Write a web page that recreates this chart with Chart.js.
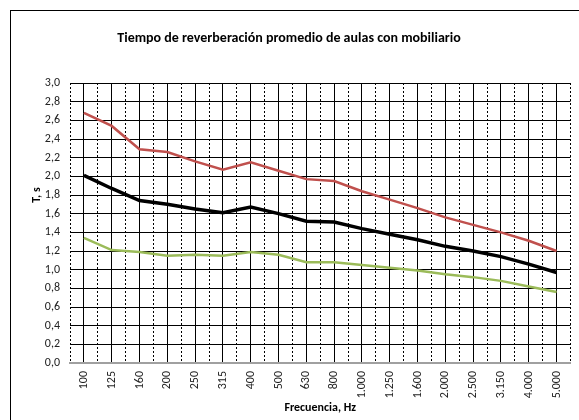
<!DOCTYPE html>
<html><head><meta charset="utf-8">
<script src="https://cdn.jsdelivr.net/npm/chart.js@4/dist/chart.umd.min.js"></script>
<style>html,body{margin:0;padding:0;background:#fff}#wrap{width:579px;height:420px;position:relative}</style>
</head><body><div id="wrap"><canvas id="c" width="579" height="420"></canvas></div>
<script>
const categories = ['100','125','160','200','250','315','400','500','630','800','1.000','1.250','1.600','2.000','2.500','3.150','4.000','5.000'];
const maxValues  = [2.68,2.54,2.29,2.26,2.16,2.07,2.15,2.06,1.97,1.95,1.84,1.75,1.66,1.56,1.48,1.40,1.31,1.20];
const meanValues = [2.01,1.87,1.74,1.70,1.65,1.61,1.67,1.60,1.52,1.51,1.44,1.38,1.32,1.25,1.20,1.14,1.06,0.97];
const minValues  = [1.34,1.21,1.19,1.15,1.16,1.15,1.19,1.16,1.08,1.08,1.05,1.02,0.99,0.95,0.92,0.88,0.82,0.76];
const titleText = 'Tiempo de reverberación promedio de aulas con mobiliario';
const yTitle = 'T, s';
const xTitle = 'Frecuencia, Hz';
const FONT = "Carlito, Lato, 'Liberation Sans', sans-serif";

const textPlugin = {
  id: 'texts',
  beforeDraw(chart) {
    const c = chart.ctx;
    c.save();
    c.strokeStyle = '#000'; c.lineWidth = 1;
    c.strokeRect(10.5, 10.5, 700, 600);
    c.restore();
  },
  afterDraw(chart) {
    const c = chart.ctx, a = chart.chartArea;
    c.save();
    c.fillStyle = '#000';
    c.textAlign = 'center'; c.textBaseline = 'middle';
    c.font = 'bold 14px ' + FONT;
    c.fillText(titleText, 289, 38);
    c.font = 'bold 12px ' + FONT;
    c.fillText(xTitle, (a.left + a.right) / 2, 408);
    const ys = chart.scales.y.getPixelForValue(1.8);
    c.translate(37, ys);
    c.rotate(-Math.PI / 2);
    c.fillText(yTitle, 0, 0);
    c.restore();
  }
};

new Chart(document.getElementById('c'), {
  type: 'line',
  data: {
    labels: categories,
    datasets: [
      { data: maxValues, borderColor: '#C0504D', borderWidth: 2.5, pointRadius: 0, tension: 0, xAxisID: 'x' },
      { data: meanValues, borderColor: '#000000', borderWidth: 3.5, pointRadius: 0, tension: 0, xAxisID: 'x' },
      { data: minValues, borderColor: '#9BBB59', borderWidth: 2.5, pointRadius: 0, tension: 0, xAxisID: 'x' }
    ]
  },
  options: {
    responsive: false, animation: false, devicePixelRatio: 1,
    layout: { padding: { top: 83, right: 1, left: 0, bottom: 0 } },
    plugins: { legend: { display: false }, title: { display: false }, tooltip: { enabled: false } },
    scales: {
      x: {
        type: 'category', offset: true,
        grid: { offset: false, color: '#000', lineWidth: 1, drawTicks: false },
        border: { display: true, color: '#a0a0a0', width: 2 },
        ticks: { minRotation: 90, maxRotation: 90, autoSkip: false, padding: 8, color: '#222', font: { family: FONT, size: 12 } },
        afterFit(s) { s.height = 57; }
      },
      x2: {
        type: 'category', labels: categories, offset: true, position: 'bottom', display: true,
        grid: { offset: true, color: '#000', lineWidth: 1, drawTicks: false, z: 0 },
        border: { display: false, dash: [2, 2] },
        ticks: { display: false },
        afterFit(s) { s.height = 0; }
      },
      y: {
        min: 0, max: 3,
        grid: { color: (ctx) => ctx.tick && ctx.tick.value === 0 ? '#a0a0a0' : '#000', lineWidth: (ctx) => ctx.tick && ctx.tick.value === 0 ? 2 : 1, drawTicks: false },
        border: { display: false },
        ticks: { stepSize: 0.2, padding: 10, color: '#222', font: { family: FONT, size: 12 },
          callback: (v) => Number(v).toFixed(1).replace('.', ',') },
        afterFit(s) { s.width = 70; }
      }
    }
  },
  plugins: [textPlugin]
});
</script></body></html>
